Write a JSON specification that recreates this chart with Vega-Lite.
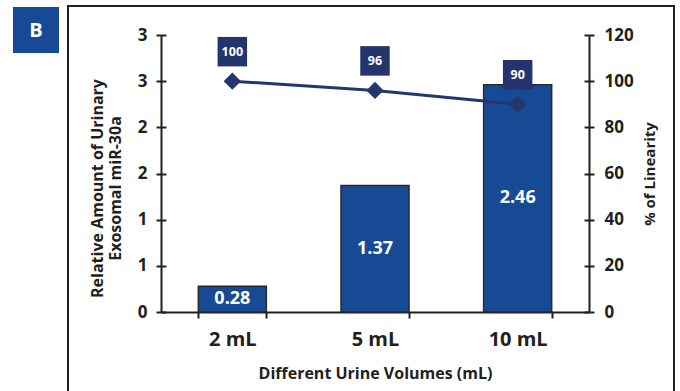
{
  "$schema": "https://vega.github.io/schema/vega-lite/v6.json",
  "width": 606,
  "height": 385,
  "autosize": "none",
  "padding": {"left": 68, "top": 6, "right": 6, "bottom": 0},
  "background": "white",
  "config": {
    "view": {"stroke": "#231f20", "strokeWidth": 2, "strokeDash": [991, 606, 400]},
    "font": "Open Sans",
    "axis": {"labelColor": "#231f20", "titleColor": "#231f20", "domainColor": "#231f20", "tickColor": "#231f20", "domainWidth": 2, "tickWidth": 2, "grid": false}
  },
  "data": {
    "values": [
      {"volume": "2 mL", "amount": 0.28, "linearity": 100},
      {"volume": "5 mL", "amount": 1.37, "linearity": 96},
      {"volume": "10 mL", "amount": 2.46, "linearity": 90}
    ]
  },
  "resolve": {"scale": {"y": "independent"}, "axis": {"y": "independent"}},
  "layer": [
    {
      "mark": {"type": "bar", "fill": "#164a94", "stroke": "#2b2b2b", "strokeWidth": 1.5},
      "encoding": {
        "x": {
          "field": "volume", "type": "nominal", "sort": null,
          "scale": {"range": [93, 521], "paddingInner": 0.523, "paddingOuter": 0.2615},
          "axis": {
            "orient": "bottom", "offset": -79, "tickBand": "extent", "tickSize": 6,
            "labelAngle": 0, "labelPadding": 11, "labelFontSize": 20, "labelFontWeight": "bold",
            "title": "Different Urine Volumes (mL)", "titleFontSize": 16, "titleFontWeight": "bold", "titlePadding": 16
          }
        },
        "y": {
          "field": "amount", "type": "quantitative",
          "scale": {"domain": [0, 3], "range": [306, 29], "nice": false, "zero": true},
          "axis": {
            "orient": "left", "offset": -93, "values": [0, 0.5, 1, 1.5, 2, 2.5, 3], "format": ".0f",
            "tickSize": 5, "labelPadding": 9, "labelFontSize": 17, "labelFontWeight": "bold",
            "title": ["Relative Amount of Urinary", "Exosomal miR-30a"], "titleFontSize": 16, "titleFontWeight": "bold",
            "titleLineHeight": 18, "titlePadding": 14, "titleY": 182
          }
        }
      }
    },
    {
      "transform": [{"calculate": "datum.amount / 2", "as": "mid"}],
      "mark": {"type": "text", "color": "white", "fontSize": 18, "fontWeight": "bold", "baseline": "middle"},
      "encoding": {
        "x": {"field": "volume", "type": "nominal", "sort": null},
        "y": {
          "field": "mid", "type": "quantitative",
          "scale": {"domain": [0, 3], "range": [306, 29], "nice": false},
          "axis": {"orient": "left", "offset": -93, "values": [0, 0.5, 1, 1.5, 2, 2.5, 3], "domain": false, "labels": false, "tickSize": -5, "title": null}
        },
        "text": {"field": "amount", "type": "quantitative", "format": ".2f"}
      }
    },
    {
      "mark": {"type": "line", "stroke": "#25366f", "strokeWidth": 3},
      "encoding": {
        "x": {"field": "volume", "type": "nominal", "sort": null},
        "y": {
          "field": "linearity", "type": "quantitative",
          "scale": {"domain": [0, 120], "range": [306, 29], "nice": false},
          "axis": {
            "orient": "right", "offset": -85, "values": [0, 20, 40, 60, 80, 100, 120],
            "tickSize": 5, "labelPadding": 10, "labelFontSize": 17, "labelFontWeight": "bold",
            "title": "% of Linearity", "titleFontSize": 15, "titleFontWeight": "bold", "titleAngle": 270, "titlePadding": 24
          }
        }
      }
    },
    {
      "mark": {"type": "point", "shape": "diamond", "filled": true, "size": 300, "color": "#25366f", "opacity": 1},
      "encoding": {
        "x": {"field": "volume", "type": "nominal", "sort": null},
        "y": {
          "field": "linearity", "type": "quantitative",
          "scale": {"domain": [0, 120], "range": [306, 29], "nice": false},
          "axis": {"orient": "right", "offset": -85, "values": [0, 20, 40, 60, 80, 100, 120], "domain": false, "labels": false, "tickSize": -5, "title": null}
        }
      }
    },
    {
      "mark": {"type": "point", "shape": "square", "filled": true, "size": 870, "color": "#24356e", "opacity": 1, "yOffset": -29.5},
      "encoding": {
        "x": {"field": "volume", "type": "nominal", "sort": null},
        "y": {"field": "linearity", "type": "quantitative", "scale": {"domain": [0, 120], "range": [306, 29], "nice": false}, "axis": null}
      }
    },
    {
      "mark": {"type": "text", "color": "white", "fontSize": 12.5, "fontWeight": "bold", "baseline": "middle", "yOffset": -29.5},
      "encoding": {
        "x": {"field": "volume", "type": "nominal", "sort": null},
        "y": {"field": "linearity", "type": "quantitative", "scale": {"domain": [0, 120], "range": [306, 29], "nice": false}, "axis": null},
        "text": {"field": "linearity", "type": "quantitative"}
      }
    },
    {
      "data": {"values": [{"panel": "B"}]},
      "mark": {"type": "square", "filled": true, "size": 2116, "color": "#164a94", "opacity": 1},
      "encoding": {"x": {"value": -32}, "y": {"value": 24}}
    },
    {
      "data": {"values": [{"panel": "B"}]},
      "mark": {"type": "text", "color": "white", "fontSize": 20, "fontWeight": "bold", "baseline": "middle", "align": "center"},
      "encoding": {"x": {"value": -32}, "y": {"value": 25}, "text": {"field": "panel"}}
    }
  ]
}
